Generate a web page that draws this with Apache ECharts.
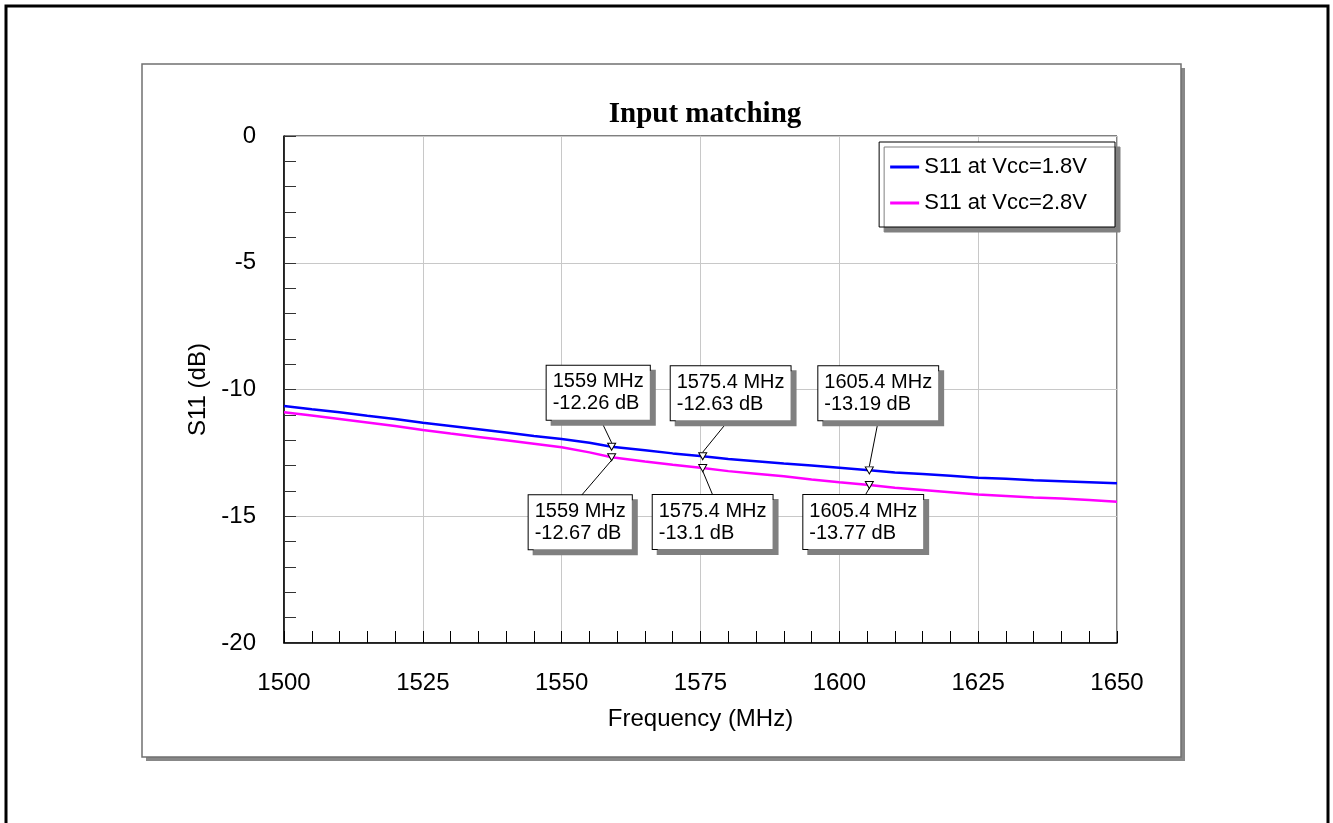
<!DOCTYPE html>
<html>
<head>
<meta charset="utf-8">
<title>Input matching</title>
<script src="https://cdn.jsdelivr.net/npm/echarts@6/dist/echarts.min.js"></script>
<style>
  html, body { margin: 0; padding: 0; background: #fff; }
  #chart { width: 1333px; height: 823px; }
</style>
</head>
<body>
<div id="chart"></div>
<script>
// frequency points (MHz)
const freqs = [1500, 1505, 1510, 1515, 1520, 1525, 1530, 1535, 1540, 1545, 1550, 1555, 1559,
  1565, 1570, 1575.4, 1580, 1585, 1590, 1595, 1600, 1605.4, 1610, 1615, 1620, 1625, 1630,
  1635, 1640, 1645, 1650]
// S11 (dB)
const s11Low = [-10.65, -10.78, -10.90, -11.04, -11.16, -11.31, -11.44, -11.57, -11.70, -11.83,
  -11.95, -12.10, -12.26, -12.40, -12.52, -12.63, -12.74, -12.83, -12.92, -13.00, -13.09,
  -13.19, -13.27, -13.33, -13.40, -13.48, -13.52, -13.58, -13.62, -13.66, -13.70]
const s11High = [-10.90, -11.03, -11.16, -11.30, -11.44, -11.60, -11.74, -11.87, -12.00, -12.14,
  -12.28, -12.48, -12.67, -12.84, -12.97, -13.10, -13.22, -13.32, -13.42, -13.55, -13.66,
  -13.77, -13.88, -13.96, -14.05, -14.14, -14.20, -14.26, -14.30, -14.36, -14.43]
const seriesNames = ['S11 at Vcc=1.8V', 'S11 at Vcc=2.8V']
// marker frequencies and readouts
const markerFreqs = [1559, 1575.4, 1605.4]
const markerLow = [-12.26, -12.63, -13.19]
const markerHigh = [-12.67, -13.1, -13.77]

// label box placement relative to marker point: [dx, dy, anchorX]
const boxLayout = [
  [[-65, -81, 54], [-32, -90, 58], [-51, -104, 60]],
  [[-83, 38, 53], [-50, 27, 60], [-66, 10, 62]]
]

const colors = ['#0000ff', '#ff00ff']
const font = '"Liberation Sans", Arial, sans-serif'

const chart = echarts.init(document.getElementById('chart'))

const mkSeries = (idx, values, mvals) => ({
  name: seriesNames[idx],
  type: 'line',
  data: freqs.map((f, i) => [f, values[i]]),
  symbol: 'none',
  lineStyle: { color: colors[idx], width: 2.5 },
  itemStyle: { color: colors[idx] },
  z: 3,
  markPoint: {
    symbol: 'triangle',
    symbolSize: [8, 7],
    symbolRotate: 180,
    itemStyle: { color: '#fff', borderColor: '#000', borderWidth: 1 },
    label: { show: false },
    data: markerFreqs.map((f, i) => ({ coord: [f, mvals[i]] })),
    animation: false
  }
})

chart.setOption({
  animation: false,
  title: {
    text: 'Input matching',
    left: 700,
    textAlign: 'center',
    top: 95,
    textStyle: { fontFamily: '"Liberation Serif", "Times New Roman", serif', fontWeight: 'bold', fontSize: 29, color: '#000' }
  },
  legend: {
    orient: 'vertical',
    right: 218,
    top: 142,
    padding: [14, 28, 13, 11],
    icon: 'rect',
    itemWidth: 29,
    itemHeight: 3,
    itemGap: 14,
    backgroundColor: '#fff',
    borderColor: '#000',
    borderWidth: 1,
    shadowColor: '#808080',
    shadowBlur: 0,
    shadowOffsetX: 5,
    shadowOffsetY: 5,
    textStyle: { fontFamily: font, fontSize: 22, color: '#000' },
    data: seriesNames
  },
  grid: {
    left: 284, top: 136, right: 216, bottom: 180,
    show: true, borderColor: '#000', borderWidth: 1
  },
  xAxis: {
    type: 'value',
    min: 1500, max: 1650, interval: 25,
    name: 'Frequency (MHz)',
    nameLocation: 'middle',
    nameGap: 64,
    nameTextStyle: { fontFamily: font, fontSize: 24, color: '#000' },
    axisLine: { onZero: false, lineStyle: { color: '#000', width: 1.5 } },
    axisTick: { show: true, inside: true, length: 12, lineStyle: { color: '#000' } },
    minorTick: { show: true, splitNumber: 5, length: 12, lineStyle: { color: '#000' } },
    axisLabel: { fontFamily: font, fontSize: 24, color: '#000', margin: 28, formatter: v => String(v) },
    splitLine: { lineStyle: { color: '#c8c8c8', width: 1 } }
  },
  yAxis: {
    type: 'value',
    min: -20, max: 0, interval: 5,
    name: 'S11 (dB)',
    nameLocation: 'middle',
    nameRotate: 90,
    nameGap: 70,
    nameTextStyle: { fontFamily: font, fontSize: 24, color: '#000' },
    axisLine: { onZero: false, lineStyle: { color: '#000', width: 1.5 } },
    axisTick: { show: true, inside: true, length: 12, lineStyle: { color: '#333' } },
    minorTick: { show: true, splitNumber: 5, length: 12, lineStyle: { color: '#333' } },
    axisLabel: { fontFamily: font, fontSize: 24, color: '#000', margin: 28 },
    splitLine: { lineStyle: { color: '#c8c8c8', width: 1 } }
  },
  series: [mkSeries(0, s11Low, markerLow), mkSeries(1, s11High, markerHigh)]
})

// frame, panel and marker readout boxes
const graphics = [
  {
    type: 'rect', z: -10, silent: true,
    shape: { x: 6, y: 6, width: 1322, height: 830 },
    style: { fill: '#fff', stroke: '#000', lineWidth: 3 }
  },
  {
    type: 'rect', z: -9, silent: true,
    shape: { x: 146, y: 68, width: 1039, height: 693 },
    style: { fill: '#888', stroke: null }
  },
  {
    type: 'rect', z: -8, silent: true,
    shape: { x: 142, y: 64, width: 1039, height: 693 },
    style: { fill: '#fff', stroke: '#707070', lineWidth: 1.5 }
  }
]

const addReadouts = (sIdx, mvals, upper) => {
  markerFreqs.forEach((f, i) => {
    const pt = chart.convertToPixel({ seriesIndex: sIdx }, [f, mvals[i]])
    const [dx, dy, ax] = boxLayout[sIdx][i]
    const bx = pt[0] + dx
    const by = pt[1] + dy
    const ay = upper ? by + 54 : by
    const ty = upper ? pt[1] - 4 : pt[1] + 3
    graphics.push({
      type: 'line', z: 50, silent: true,
      shape: { x1: bx + ax, y1: ay, x2: pt[0], y2: ty },
      style: { stroke: '#000', lineWidth: 1 }
    })
    graphics.push({
      type: 'text', z: 60, silent: true,
      style: {
        x: bx, y: by,
        text: f + ' MHz\n' + mvals[i] + ' dB',
        font: '20px ' + font,
        fill: '#000',
        lineHeight: 22,
        align: 'left',
        verticalAlign: 'top',
        padding: [5, 6, 5, 6],
        backgroundColor: '#fff',
        borderColor: '#000',
        borderWidth: 1,
        shadowColor: '#808080',
        shadowBlur: 0,
        shadowOffsetX: 5,
        shadowOffsetY: 5
      }
    })
  })
}
addReadouts(0, markerLow, true)
addReadouts(1, markerHigh, false)

chart.setOption({ graphic: graphics })
</script>
</body>
</html>
